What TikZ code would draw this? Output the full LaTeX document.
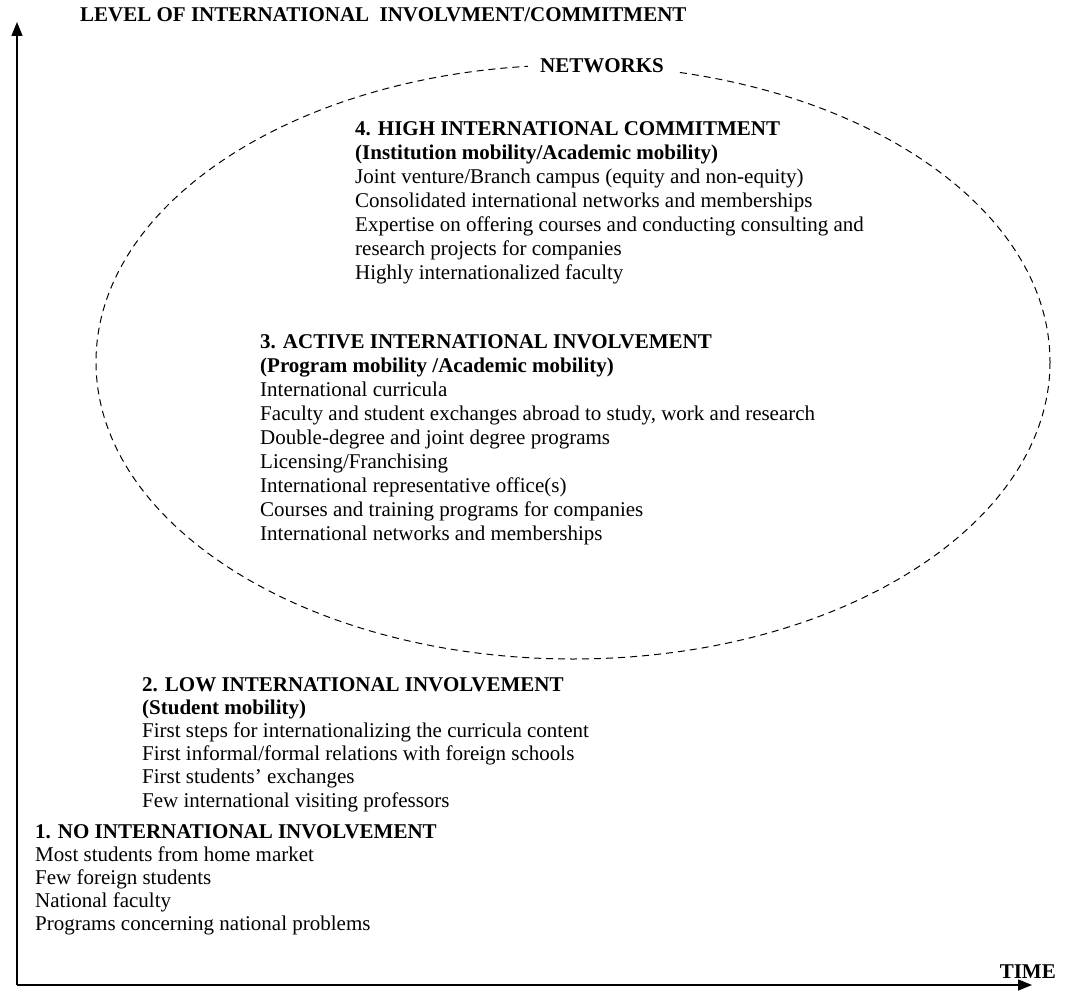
\documentclass[tikz,border=0pt]{standalone}
\usepackage{fontspec}
\setmainfont{Liberation Serif}
\usetikzlibrary{arrows.meta}

\begin{document}
\begin{tikzpicture}[x=1pt,y=-1pt,
    stage/.style={anchor=north west, inner sep=0pt, align=left, font=\fontsize{21}{24}\selectfont},
    tight/.style={font=\fontsize{21}{23.2}\selectfont},
    heading/.style={inner sep=0pt, font=\fontsize{21}{24}\selectfont\bfseries}]
			%%%%% FRAME %%%%%
			\useasboundingbox (0,0) rectangle (1074,1000);
			\coordinate (origin) at (17,985);
			\coordinate (ytop) at (17,22);
			\coordinate (xend) at (1032,985);
			\draw[line width=1.4pt, -{Triangle[length=14pt,width=11pt]}] (origin) -- (ytop);
			\draw[line width=1.4pt, -{Triangle[length=14pt,width=11pt]}] (origin) -- (xend);
			\node[heading, anchor=west] (level) at (80,15) {LEVEL OF INTERNATIONAL\ \ INVOLVMENT/COMMITMENT};
			\node[heading, anchor=east] (time) at (1056,972) {TIME};
			
			%%%%% NETWORKS %%%%%
			\draw[line width=1pt, dash pattern=on 7pt off 5pt] (573,362) ellipse (477 and 297);
			\node[heading, fill=white, inner xsep=12pt, inner ysep=4pt] (networks) at (602,66) {NETWORKS};
			
			%%%%% STAGES %%%%%
			\node[stage] (high) at (355,121) {\textbf{4. HIGH INTERNATIONAL COMMITMENT}\\
				\textbf{(Institution mobility/Academic mobility)}\\
				Joint venture/Branch campus (equity and non-equity)\\
				Consolidated international networks and memberships\\
				Expertise on offering courses and conducting consulting and\\
				research projects for companies\\
				Highly internationalized faculty};
			\node[stage] (active) at (260,334) {\textbf{3. ACTIVE INTERNATIONAL INVOLVEMENT}\\
				\textbf{(Program mobility /Academic mobility)}\\
				International curricula\\
				Faculty and student exchanges abroad to study, work and research\\
				Double-degree and joint degree programs\\
				Licensing/Franchising\\
				International representative office(s)\\
				Courses and training programs for companies\\
				International networks and memberships};
			\node[stage, tight] (low) at (142,677) {\textbf{2. LOW INTERNATIONAL INVOLVEMENT}\\
				\textbf{(Student mobility)}\\
				First steps for internationalizing the curricula content\\
				First informal/formal relations with foreign schools\\
				First students’ exchanges\\
				Few international visiting professors};
			\node[stage, tight] (none) at (35,824) {\textbf{1. NO INTERNATIONAL INVOLVEMENT}\\
				Most students from home market\\
				Few foreign students\\
				National faculty\\
				Programs concerning national problems};
		\end{tikzpicture}
\end{document}
